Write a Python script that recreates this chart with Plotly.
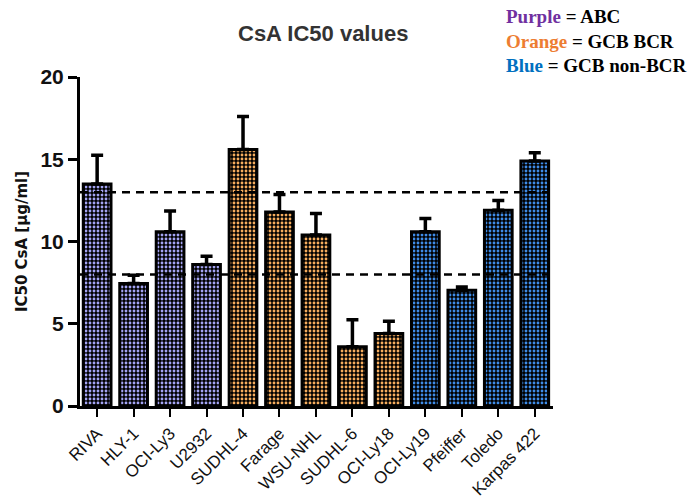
import plotly.graph_objects as go

# Cell lines and measured IC50 values (mean and upper error end)
cell_lines = ["RIVA", "HLY-1", "OCI-Ly3", "U2932", "SUDHL-4", "Farage", "WSU-NHL",
              "SUDHL-6", "OCI-Ly18", "OCI-Ly19", "Pfeiffer", "Toledo", "Karpas 422"]
ic50_mean = [13.5, 7.45, 10.6, 8.6, 15.6, 11.8, 10.4, 3.6, 4.4, 10.6, 7.03, 11.9, 14.9]
ic50_sd = [1.75, 0.5, 1.25, 0.5, 2.0, 1.05, 1.3, 1.65, 0.75, 0.8, 0.2, 0.6, 0.5]
subtype = ["ABC", "ABC", "ABC", "ABC", "GCB BCR", "GCB BCR", "GCB BCR", "GCB BCR",
           "GCB BCR", "GCB non-BCR", "GCB non-BCR", "GCB non-BCR", "GCB non-BCR"]
thresholds = [13, 8]

subtype_colors = {"ABC": "#a4a4f4", "GCB BCR": "#f6ad5e", "GCB non-BCR": "#3f8ce8"}
bar_colors = [subtype_colors[s] for s in subtype]

fig = go.Figure()
fig.add_trace(go.Bar(
    x=cell_lines,
    y=ic50_mean,
    width=0.76,
    marker=dict(
        color="black",
        line=dict(color="black", width=3),
        pattern=dict(shape=".", fillmode="overlay", fgcolor=bar_colors,
                     fgopacity=1, size=4, solidity=0.4),
    ),
    error_y=dict(type="data", symmetric=False, array=ic50_sd,
                 arrayminus=[0] * len(ic50_sd), color="black",
                 thickness=3.5, width=6),
    showlegend=False,
))

for t in thresholds:
    fig.add_shape(type="line", xref="x domain", yref="y", x0=0, x1=1, y0=t, y1=t,
                  line=dict(color="black", width=2.5, dash="8px,6px"), layer="above")

fig.add_annotation(text="<b>CsA IC50 values</b>", xref="paper", yref="paper",
                   x=0.514, y=1.0, yanchor="middle", yshift=44, showarrow=False,
                   font=dict(family="Liberation Sans", size=22, color="#333333"))

legend_text = ("<b><span style='color:#7030a0'>Purple</span> = ABC<br>"
               "<span style='color:#ed7d31'>Orange</span> = GCB BCR<br>"
               "<span style='color:#0070c0'>Blue</span> = GCB non-BCR</b>")
fig.add_annotation(text=legend_text, xref="paper", yref="paper", x=0.897, y=1.0,
                   xanchor="left", yanchor="top", yshift=73, align="left",
                   showarrow=False,
                   font=dict(family="Liberation Serif", size=19, color="black"))

fig.update_layout(
    width=693, height=502,
    margin=dict(l=80, r=140, t=77, b=96, autoexpand=False),
    plot_bgcolor="white", paper_bgcolor="white",
    bargap=0.2,
)
fig.update_xaxes(
    range=[-0.47, 12.5], automargin=False,
    showline=True, linecolor="black", linewidth=3,
    ticks="outside", ticklen=8, tickwidth=2, tickcolor="black",
    tickangle=-45, showgrid=False,
    tickfont=dict(family="Liberation Sans", size=17, color="#111111"),
)
fig.update_yaxes(
    range=[0, 20], tickvals=[0, 5, 10, 15, 20], automargin=False,
    showline=True, linecolor="black", linewidth=3,
    ticks="outside", ticklen=9, tickwidth=3, tickcolor="black",
    showgrid=False, zeroline=False,
    tickfont=dict(family="Liberation Sans", size=21, color="#111111", weight="bold"),
    title=dict(text="<b>IC50 CsA [µg/ml]</b>", standoff=10,
               font=dict(family="DejaVu Sans", size=15, color="#111111")),
)

fig.write_html("out.html")
